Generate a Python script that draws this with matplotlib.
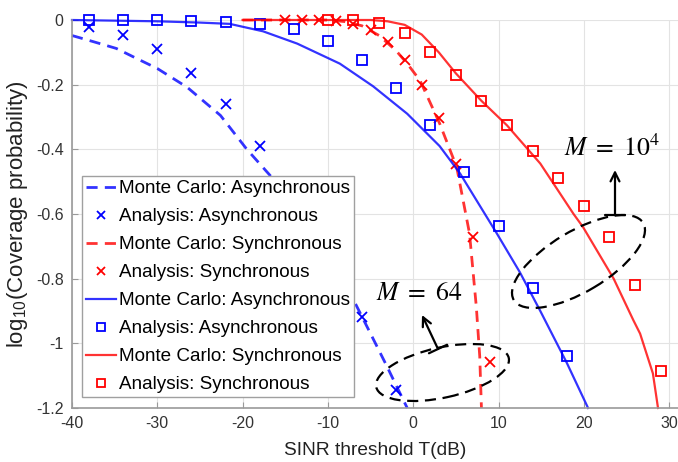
import matplotlib
matplotlib.use('Agg')
import matplotlib.pyplot as plt
from matplotlib.patches import Ellipse

plt.rcParams['font.family'] = ['Liberation Sans', 'DejaVu Sans']
plt.rcParams['mathtext.fontset'] = 'stix'

# ---------------- data ----------------
# M = 64, Monte Carlo asynchronous (blue dashed)
mc_async64_x = [-40, -37.5, -34.8, -32.5, -30, -26.5, -22.6, -19.5, -16.6, -14, -12, -10, -8, -6.8, -5, -3.1, -2, -0.7]
mc_async64_y = [-0.048, -0.067, -0.088, -0.118, -0.15, -0.208, -0.295, -0.40, -0.486, -0.57, -0.64, -0.73, -0.82, -0.876, -0.97, -1.07, -1.13, -1.2]
# M = 64, analysis asynchronous (blue x)
an_async64_x = [-38, -34, -30, -26, -22, -18, -14, -10, -6, -2]
an_async64_y = [-0.023, -0.045, -0.091, -0.163, -0.26, -0.39, -0.54, -0.71, -0.92, -1.145]
# M = 64, Monte Carlo synchronous (red dashed)
mc_sync64_x = [-20, -10, -8, -6, -4, -2, -0.7, 0.8, 3.1, 5.1, 6.6, 7.4, 7.8, 8.0]
mc_sync64_y = [0, 0, -0.005, -0.018, -0.048, -0.095, -0.135, -0.187, -0.32, -0.455, -0.66, -0.887, -1.04, -1.2]
# M = 64, analysis synchronous (red x)
an_sync64_x = [-15, -13, -11, -9, -7, -5, -3, -1, 1, 3, 5, 7, 9]
an_sync64_y = [0, 0, 0, -0.002, -0.011, -0.032, -0.069, -0.123, -0.2, -0.302, -0.444, -0.67, -1.057]
# M = 10^4, Monte Carlo asynchronous (blue solid)
mc_async1e4_x = [-40, -35, -30, -25, -21.5, -17.6, -13.6, -8.6, -4.7, -0.7, 3.1, 5.5, 9.8, 12.5, 14.9, 18.0, 20.5]
mc_async1e4_y = [0, -0.002, -0.004, -0.008, -0.012, -0.035, -0.073, -0.135, -0.205, -0.29, -0.39, -0.475, -0.66, -0.78, -0.90, -1.06, -1.2]
# M = 10^4, analysis asynchronous (blue squares)
an_async1e4_x = [-38, -34, -30, -26, -22, -18, -14, -10, -6, -2, 2, 6, 10, 14, 18]
an_async1e4_y = [0, 0, -0.001, -0.003, -0.006, -0.012, -0.028, -0.064, -0.123, -0.21, -0.326, -0.47, -0.638, -0.83, -1.04]
# M = 10^4, Monte Carlo synchronous (red solid)
mc_sync1e4_x = [-20, -5, -3, -1, 1, 3, 5, 8, 11, 14.9, 18.8, 19.9, 23.5, 25.8, 26.6, 28.1, 28.7]
mc_sync1e4_y = [0, 0, -0.004, -0.015, -0.045, -0.1, -0.165, -0.25, -0.326, -0.444, -0.6, -0.64, -0.80, -0.928, -0.97, -1.093, -1.2]
# M = 10^4, analysis synchronous (red squares)
an_sync1e4_x = [-10, -7, -4, -1, 2, 5, 8, 11, 14, 17, 20, 23, 26, 29]
an_sync1e4_y = [0, -0.001, -0.01, -0.04, -0.1, -0.17, -0.25, -0.326, -0.405, -0.49, -0.576, -0.67, -0.82, -1.085]

x_ticks = [-40, -30, -20, -10, 0, 10, 20, 30]
x_ticklabels = ['-40', '-30', '-20', '-10', '0', '10', '20', '30']
y_ticks = [0, -0.2, -0.4, -0.6, -0.8, -1, -1.2]
y_ticklabels = ['0', '-0.2', '-0.4', '-0.6', '-0.8', '-1', '-1.2']

labels = ['Monte Carlo: Asynchronous', 'Analysis: Asynchronous',
          'Monte Carlo: Synchronous', 'Analysis: Synchronous',
          'Monte Carlo: Asynchronous', 'Analysis: Asynchronous',
          'Monte Carlo: Synchronous', 'Analysis: Synchronous']

# ---------------- figure ----------------
W, H = 678, 462
fig = plt.figure(figsize=(W / 100, H / 100), dpi=100)
ax = fig.add_axes([72 / W, (H - 408) / H, (W - 72) / W, (408 - 20) / H])

BLUE = '#0000ff'
RED = '#ff0000'
dash = (4.0, 2.6)
ms = 7

h = []
h += ax.plot(mc_async64_x, mc_async64_y, color=BLUE, lw=2.0, dashes=dash, clip_on=False, alpha=0.8)
h += ax.plot(an_async64_x, an_async64_y, ls='none', marker='x', color=BLUE, ms=ms, mew=1.3, clip_on=False)
h += ax.plot(mc_sync64_x, mc_sync64_y, color=RED, lw=2.0, dashes=dash, clip_on=False, alpha=0.8)
h += ax.plot(an_sync64_x, an_sync64_y, ls='none', marker='x', color=RED, ms=ms, mew=1.3, clip_on=False)
h += ax.plot(mc_async1e4_x, mc_async1e4_y, color=BLUE, lw=1.6, clip_on=False, alpha=0.8)
h += ax.plot(an_async1e4_x, an_async1e4_y, ls='none', marker='s', mfc='none', color=BLUE, ms=ms, mew=1.3, clip_on=False)
h += ax.plot(mc_sync1e4_x, mc_sync1e4_y, color=RED, lw=1.6, clip_on=False, alpha=0.8)
h += ax.plot(an_sync1e4_x, an_sync1e4_y, ls='none', marker='s', mfc='none', color=RED, ms=ms, mew=1.3, clip_on=False)

ax.set_xlim(-40, -40 + (W - 72) / 8.53)
ax.set_ylim(-1.2, 0)
ax.set_xticks(x_ticks)
ax.set_xticklabels(x_ticklabels)
ax.set_yticks(y_ticks)
ax.set_yticklabels(y_ticklabels)
ax.grid(True, color='#e3e3e3', lw=0.8)
ax.set_axisbelow(True)
for s in ['top', 'right']:
    ax.spines[s].set_visible(False)
for s in ['left', 'bottom']:
    ax.spines[s].set_color('#9a9a9a')
    ax.spines[s].set_linewidth(1.2)
ax.tick_params(direction='in', length=4, color='#9a9a9a', labelsize=11.5, labelcolor='#333333', pad=6)

ax.set_xlabel('SINR threshold T(dB)', fontsize=13.8, color='#222222', labelpad=8)
ax.set_ylabel(r'log$_{\mathregular{10}}$(Coverage probability)', fontsize=16, color='#222222', labelpad=4)

leg = ax.legend(h, labels, loc='lower left', bbox_to_anchor=(10 / (W - 72), 11 / 388),
                borderaxespad=0, fontsize=13.6, frameon=True, fancybox=False,
                framealpha=1, edgecolor='#a0a0a0', handlelength=1.6, handletextpad=0.15,
                labelspacing=0.57, borderpad=0.2, markerscale=0.75)
leg.get_frame().set_linewidth(1.0)

# ---------------- annotations (figure pixel coordinates) ----------------
T = fig.dpi_scale_trans
def P(x, y):
    return (x / 100, (H - y) / 100)

e1 = Ellipse(P(578.5, 261.5), 150.6 / 100, 60.4 / 100, angle=30.8, transform=T,
             fill=False, ec='black', lw=1.6, ls=(0, (5, 3)), clip_on=False)
e2 = Ellipse(P(442.5, 372.5), 135.7 / 100, 50.2 / 100, angle=12.4, transform=T,
             fill=False, ec='black', lw=1.6, ls=(0, (5, 3)), clip_on=False)
fig.add_artist(e1)
fig.add_artist(e2)

ap = dict(arrowstyle=']->,widthA=0.45,lengthA=0',
          lw=1.6, color='black', shrinkA=0, shrinkB=0, mutation_scale=16)
ax.annotate('', xy=P(615, 170), xytext=P(615, 215), xycoords=T, textcoords=T, arrowprops=ap)
ax.annotate('', xy=P(422, 315), xytext=P(438, 349), xycoords=T, textcoords=T, arrowprops=ap)

fig.text(*P(612, 148), r'$M\ =\ 10^4$', transform=T, fontsize=18.5, ha='center', va='center')
fig.text(*P(419, 293), r'$M\ =\ 64$', transform=T, fontsize=18.5, ha='center', va='center')

fig.savefig('out.png', dpi=100)
